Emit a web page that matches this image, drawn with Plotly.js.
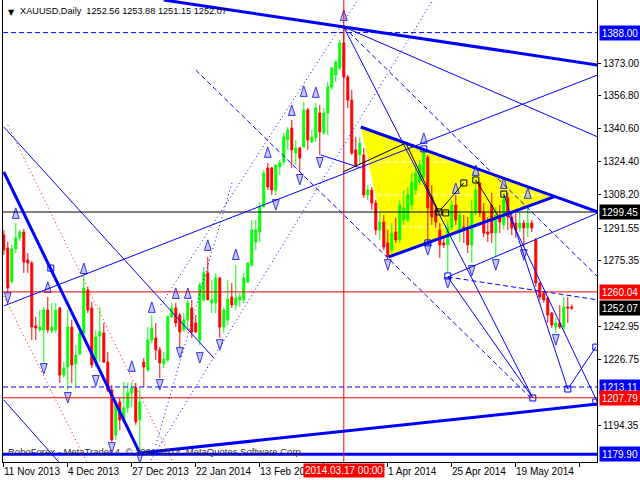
<!DOCTYPE html>
<html><head><meta charset="utf-8">
<script src="https://cdn.plot.ly/plotly-3.0.1.min.js"></script>
<style>html,body{margin:0;padding:0;background:#fff}#chart{width:640px;height:480px}</style>
</head><body><div id="chart"></div>
<script>
// ---- OHLC data (daily bars, index 0 = 11 Nov 2013) ----
const opens = [
1288.1,1281.7,1265.0,1281.3,1286.7,1289.6,1275.8,1274.3,1243.2,1241.3,
1241.3,1251.1,1240.8,1241.3,1252.1,1219.0,1223.0,1242.7,1224.5,1229.4,
1239.8,1261.0,1252.1,1225.0,1238.3,1239.8,1225.4,1211.6,1189.4,1205.7,
1195.9,1202.8,1210.2,1212.6,1196.8,1225.4,1221.5,1236.3,1237.3,1231.4,
1224.5,1226.4,1247.7,1252.1,1248.6,1241.3,1246.2,1252.1,1244.7,1236.3,
1256.1,1269.4,1254.6,1254.6,1266.9,1242.7,1246.2,1257.5,1253.6,1256.1,
1256.1,1264.9,1273.3,1284.7,1289.6,1302.0,1321.2,1321.2,1310.3,1321.7,
1324.1,1335.0,1340.9,1328.6,1331.1,1331.6,1349.8,1334.0,1336.0,1348.3,
1338.5,1348.3,1361.2,1367.1,1370.5,1382.9,1366.1,1354.7,1330.1,1327.6,
1327.6,1307.9,1310.3,1303.9,1290.6,1294.5,1284.2,1280.7,1289.6,1285.7,
1295.5,1295.5,1302.9,1310.3,1314.3,1316.7,1326.6,1306.9,1300.5,1290.6,
1284.2,1283.2,1292.1,1302.9,1290.6,1292.1,1290.6,1283.2,1299.0,1313.8,
1299.0,1289.6,1302.9,1289.1,1297.0,1293.1,1306.4,1297.0,1294.0,1291.6,
1294.0,1291.6,1294.0,1285.7,1264.4,1259.5,1257.0,1249.6,1242.7,1244.7,
1242.7,1252.6,1252.56];
const highs = [
1290.6,1284.7,1283.2,1294.0,1290.6,1291.1,1279.2,1275.3,1247.7,1251.1,
1252.6,1257.5,1254.6,1254.6,1252.6,1225.4,1251.1,1246.2,1233.8,1243.7,
1268.4,1262.5,1255.1,1241.3,1252.6,1244.7,1230.4,1214.1,1206.7,1207.7,
1215.6,1215.1,1215.6,1215.1,1212.6,1227.4,1242.7,1248.6,1244.7,1232.8,
1230.4,1248.6,1254.6,1254.6,1249.6,1249.6,1256.1,1256.1,1248.6,1264.9,
1272.3,1277.3,1265.9,1269.4,1267.4,1252.6,1265.9,1264.4,1273.3,1259.5,
1269.4,1274.8,1295.5,1295.5,1304.4,1320.2,1323.7,1321.7,1322.7,1325.1,
1338.5,1341.4,1344.9,1335.0,1331.6,1353.8,1350.8,1339.9,1353.3,1352.3,
1350.8,1363.6,1371.0,1374.5,1384.3,1390.3,1367.1,1359.7,1336.5,1336.5,
1331.1,1312.8,1311.8,1305.4,1299.0,1298.0,1290.6,1294.0,1296.5,1305.4,
1310.3,1311.8,1318.7,1322.7,1325.1,1330.1,1327.6,1312.8,1302.9,1294.0,
1286.7,1295.5,1305.4,1307.9,1300.5,1298.0,1297.0,1305.4,1315.3,1314.3,
1303.9,1297.0,1308.9,1301.9,1302.9,1308.9,1308.9,1299.0,1299.0,1299.5,
1295.5,1302.9,1295.5,1286.7,1264.9,1260.0,1257.5,1250.1,1247.2,1253.6,
1257.5,1257.5,1253.88];
const lows = [
1278.3,1258.5,1263.9,1279.2,1285.2,1269.4,1269.4,1236.3,1236.3,1240.3,
1225.4,1239.8,1239.8,1239.8,1215.1,1217.6,1211.6,1215.1,1213.1,1228.9,
1236.3,1249.6,1222.5,1223.0,1225.4,1225.0,1210.6,1186.0,1187.0,1191.9,
1195.4,1200.3,1203.2,1194.4,1180.5,1213.1,1220.5,1234.8,1226.4,1217.6,
1222.5,1225.4,1247.2,1242.7,1232.8,1240.3,1241.3,1237.3,1239.8,1233.8,
1255.1,1256.1,1249.6,1249.6,1237.3,1239.8,1243.7,1252.1,1251.1,1252.6,
1254.6,1264.4,1272.3,1280.7,1284.7,1302.0,1310.3,1307.9,1307.9,1317.7,
1322.7,1330.1,1321.2,1322.7,1319.2,1331.1,1330.1,1333.5,1334.0,1327.6,
1337.5,1337.5,1359.7,1363.6,1369.5,1365.6,1350.8,1327.6,1321.7,1322.7,
1306.4,1305.4,1300.5,1288.1,1285.7,1280.7,1275.8,1279.2,1284.2,1284.2,
1293.1,1294.5,1300.5,1307.9,1312.8,1315.3,1284.2,1293.1,1291.6,1276.8,
1281.7,1269.4,1290.6,1293.1,1284.7,1284.2,1279.2,1274.3,1298.0,1297.0,
1287.1,1284.7,1284.2,1277.3,1289.1,1290.6,1290.6,1288.1,1286.7,1289.6,
1282.2,1287.1,1289.6,1262.5,1256.1,1254.6,1244.7,1242.2,1239.8,1241.8,
1240.3,1244.7,1251.15];
const closes = [
1280.7,1262.0,1281.3,1286.7,1289.6,1274.8,1274.3,1242.7,1242.2,1242.7,
1251.1,1241.3,1242.7,1251.1,1219.0,1222.5,1242.7,1224.0,1228.9,1239.8,
1262.0,1251.1,1224.0,1237.8,1240.3,1225.4,1211.6,1187.0,1204.2,1196.8,
1202.8,1210.2,1212.6,1195.9,1205.7,1223.0,1236.3,1242.2,1231.4,1225.0,
1226.9,1247.7,1252.1,1244.7,1240.3,1246.2,1254.6,1240.3,1240.3,1263.4,
1269.4,1256.1,1256.1,1266.9,1242.7,1251.1,1256.5,1253.6,1257.0,1257.5,
1266.9,1274.3,1290.6,1290.6,1302.0,1318.7,1311.8,1310.3,1322.7,1323.7,
1336.5,1339.9,1330.1,1331.1,1326.1,1349.8,1335.0,1336.5,1350.8,1339.0,
1348.3,1361.2,1370.5,1373.5,1382.9,1366.1,1354.7,1328.6,1322.7,1333.5,
1307.9,1310.3,1303.9,1290.6,1294.5,1282.2,1277.3,1289.1,1285.7,1302.9,
1301.4,1307.9,1314.3,1318.7,1322.7,1328.6,1301.4,1297.0,1294.5,1283.2,
1283.2,1292.1,1302.9,1295.5,1298.0,1290.6,1283.2,1299.0,1310.3,1299.0,
1289.1,1288.6,1289.1,1298.0,1294.5,1305.4,1297.0,1291.6,1290.6,1294.0,
1291.6,1294.0,1291.6,1264.4,1257.5,1256.1,1248.6,1243.7,1244.7,1242.7,
1252.6,1252.1,1252.07];

// ---- x-axis date labels (bar index, text) ----
const dateTickBars = [0,16,32,48,64,80,96,112,128,144];
const dateLabelBars = [0,16,32,48,64,96,112,128];
const dateLabels = ['11 Nov 2013','4 Dec 2013','27 Dec 2013','22 Jan 2014','13 Feb 2014','1 Apr 2014','25 Apr 2014','19 May 2014'];
const cursorBar = 85;
const cursorLabel = '2014.03.17 00:00';

// ---- price scale ----
const priceTicks = [1373.00,1356.80,1340.60,1324.40,1308.20,1291.55,1275.35,1242.95,1226.75,1194.35];
const boxLevels = [1388.00,1299.45,1260.04,1252.07,1213.11,1207.79,1179.90];
const boxColors = ['#0000FF','#000000','#FF0000','#000000','#0000FF','#FF0000','#0000FF'];

// ---- horizontal levels ----
const hDashBlue = [1388.00,1213.11];
const hRed = [1260.04,1207.79];
const hBlack = [1299.45];
const hThickBlue = [1179.90];

// ---- trend lines [bar1, price1, bar2, price2] ----
const thickLines = [[40,1404.1,148.5,1372.0],[0,1319.2,34,1180.5],[34,1180.5,148.5,1204.7],[89.25,1341.4,148.5,1299.5],[96.25,1277.3,137.5,1306.9]];
const thinLines = [[0,1253.1,148.5,1367.1],[0,1341.4,52.5,1227.4],[0,1206.7,13.75,1176.1],[85,1390.8,148.5,1336.5],[85,1390.8,132.25,1207.7],[111,1267.4,132.25,1207.7],[111,1267.4,148.5,1299.0],[125,1308.3,141,1212.1],[141,1212.1,148,1232.8],[126,1299.0,148.5,1205.2],[79.25,1327.6,89.25,1321.2]];
const dashLines = [[85,1390.8,148.5,1267.4],[48,1369.5,131.75,1207.7],[111,1267.4,148.5,1256.1]];
const dotLines = [[36.75,1177.1,107.25,1404.1],[39.25,1253.6,88.5,1404.1],[38,1184.5,57.25,1315.3]];
const redDotLines = [[1,1342.4,42.25,1176.1],[0,1258.0,20.75,1176.1]];
const blackLines = [[84.75,1319.2,100.5,1333.5],[100.5,1333.5,108.75,1299.5],[108.75,1299.5,115,1313.8],[118,1315.3,123.75,1297.0]];

// ---- triangle ----
const triBars = [89.25,96.25,137.5];
const triPrices = [1341.4,1277.3,1306.9];
const triLevels = [1324.2,1307.9,1292.1];

// ---- fractals (tip positions) & squares ----
const upBars = [3,11,20,32,37,43,46,51,58,66,72,75,78,85,105,113,118,125,131];
const upPrices = [1301.5,1265.0,1274.3,1226.0,1255.1,1262.0,1262.0,1285.7,1281.2,1331.6,1352.3,1361.7,1361.2,1399.2,1338.5,1313.8,1322.7,1316.3,1311.4];
const downBars = [1,10,16,23,27,34,39,44,49,54,68,74,79,96,106,111,117,123,130,138];
const downPrices = [1254.5,1219.5,1205.2,1213.6,1180.5,1175.5,1211.6,1227.4,1224.9,1231.3,1300.4,1312.8,1321.2,1270.8,1278.2,1261.9,1267.9,1270.8,1275.7,1233.8];
const blueSqBars = [11.75,105,106,111,132.25,141,148,148];
const blueSqPrices = [1271.8,1330.6,1284.2,1267.9,1207.7,1212.1,1232.8,1205.7];
const blackSqBars = [108.75,110.5,115,118,125];
const blackSqPrices = [1299.5,1299.0,1313.8,1315.3,1308.3];

const FONT = 'Liberation Sans, Arial, sans-serif';
const bars = opens.map((_, i) => i);

function seg(l, color, width, dash, layer) {
  return {type:'line', xref:'x', yref:'y', x0:l[0], y0:l[1], x1:l[2], y1:l[3],
          line:{color:color, width:width, dash:dash||'solid'}, layer:layer||'above'};
}
function hline(p, color, width, dash) {
  return {type:'line', xref:'paper', yref:'y', x0:0, x1:1, y0:p, y1:p,
          line:{color:color, width:width, dash:dash||'solid'}, layer:'above'};
}

const shapes = [];
shapes.push({type:'path', xref:'x', yref:'y',
  path:'M '+triBars[0]+','+triPrices[0]+' L '+triBars[1]+','+triPrices[1]+' L '+triBars[2]+','+triPrices[2]+' Z',
  fillcolor:'#FFFF00', line:{width:0}, layer:'below'});
triLevels.forEach(p => shapes.push({type:'line', xref:'x', yref:'y', x0:triBars[0], x1:triBars[2], y0:p, y1:p,
  line:{color:'#FFFFFF', width:1, dash:'5px,3px'}, layer:'below'}));

hDashBlue.forEach(p => shapes.push(hline(p,'#0000FF',1,'5px,3px')));
hRed.forEach(p => shapes.push(hline(p,'#FF0000',1)));
hBlack.forEach(p => shapes.push(hline(p,'#000000',1)));
hThickBlue.forEach(p => shapes.push(hline(p,'#0000FF',3)));
shapes.push({type:'line', xref:'x', yref:'paper', x0:cursorBar, x1:cursorBar, y0:0, y1:1, line:{color:'#FF0000', width:1}, layer:'above'});

thinLines.forEach(l => shapes.push(seg(l,'#0000FF',1)));
dashLines.forEach(l => shapes.push(seg(l,'#0000FF',1,'5px,3px')));
dotLines.forEach(l => shapes.push(seg(l,'#0000FF',1,'1px,3px')));
redDotLines.forEach(l => shapes.push(seg(l,'#FF0000',1,'1px,3px')));
blackLines.forEach(l => shapes.push(seg(l,'#000000',1)));
thickLines.forEach(l => shapes.push(seg(l,'#0000FF',3)));

const annotations = [];
annotations.push({xref:'paper', yref:'paper', x:0, y:1, xanchor:'left', yanchor:'top', xshift:3, yshift:-6,
  text:'\u25BC', showarrow:false, font:{family:'DejaVu Sans', size:8, color:'#000'}});
annotations.push({xref:'paper', yref:'paper', x:0, y:1, xanchor:'left', yanchor:'top', xshift:15, yshift:-4,
  text:'XAUUSD,Daily\u00a0\u00a0'+[opens[142],highs[142],lows[142],closes[142]].map(v=>v.toFixed(2)).join(' '),
  showarrow:false, font:{family:FONT, size:9.2, color:'#000'}});
dateLabelBars.forEach((b,i) => annotations.push({xref:'x', yref:'paper', x:b, y:0, xanchor:'left', yanchor:'top',
  xshift:-2, yshift:-2, text:dateLabels[i], showarrow:false, font:{family:FONT, size:10, color:'#000'}}));
annotations.push({xref:'x', yref:'paper', x:cursorBar, y:0, xanchor:'center', yanchor:'top', yshift:-1,
  text:cursorLabel, showarrow:false, bgcolor:'#FF0000', borderpad:1, font:{family:FONT, size:10, color:'#FFF'}});
boxLevels.forEach((p,i) => annotations.push({xref:'paper', yref:'y', x:1, y:p, xanchor:'left', yanchor:'middle',
  xshift:2, text:p.toFixed(2), showarrow:false, bgcolor:boxColors[i], borderpad:1, width:38, height:12,
  font:{family:FONT, size:10, color:'#FFF'}}));
annotations.push({xref:'paper', yref:'y', x:0, y:1181.5, xanchor:'left', yanchor:'middle', xshift:3,
  text:'RoboForex - MetaTrader 4, \u00a9 2001-2014, MetaQuotes Software Corp.', showarrow:false,
  font:{family:FONT, size:9.5, color:'#303030'}});

const arrowFill = 'rgba(175,175,255,0.7)';
const traces = [
  {type:'candlestick', x:bars, open:opens, high:highs, low:lows, close:closes,
   increasing:{line:{color:'#00FF00', width:1}, fillcolor:'#00FF00'},
   decreasing:{line:{color:'#FF0000', width:1}, fillcolor:'#FF0000'},
   whiskerwidth:0, hoverinfo:'skip', showlegend:false},
  {type:'scatter', mode:'markers', x:upBars, y:upPrices, hoverinfo:'skip', showlegend:false,
   marker:{symbol:'arrow', angle:0, size:11, color:arrowFill, line:{color:'#3333DD', width:1}}},
  {type:'scatter', mode:'markers', x:downBars, y:downPrices, hoverinfo:'skip', showlegend:false,
   marker:{symbol:'arrow', angle:180, size:11, color:arrowFill, line:{color:'#3333DD', width:1}}},
  {type:'scatter', mode:'markers', x:blueSqBars, y:blueSqPrices, hoverinfo:'skip', showlegend:false,
   marker:{symbol:'square-open', size:6, color:'#0000FF', line:{width:1}}},
  {type:'scatter', mode:'markers', x:blackSqBars, y:blackSqPrices, hoverinfo:'skip', showlegend:false,
   marker:{symbol:'square-open', size:6, color:'#000000', line:{width:1}}}
];

const layout = {
  width:640, height:480,
  margin:{l:3, r:43, t:0, b:18, pad:0},
  paper_bgcolor:'#FFFFFF', plot_bgcolor:'#FFFFFF',
  showlegend:false,
  xaxis:{type:'linear', range:[-0.2,148.3], rangeslider:{visible:false}, showgrid:false, zeroline:false,
         showline:true, linecolor:'#000', linewidth:1, ticks:'outside', ticklen:4, tickcolor:'#000',
         tickvals:dateTickBars, showticklabels:false, fixedrange:true},
  yaxis:{side:'right', range:[1176.09,1404.09], showgrid:false, zeroline:false, showline:true, mirror:true,
         linecolor:'#000', linewidth:1, ticks:'outside', ticklen:3, tickcolor:'#000',
         tickvals:priceTicks, ticktext:priceTicks.map(v=>v.toFixed(2)),
         tickfont:{family:FONT, size:10, color:'#000'}, fixedrange:true},
  shapes:shapes, annotations:annotations
};
Plotly.newPlot('chart', traces, layout, {staticPlot:true, displayModeBar:false});
</script></body></html>
